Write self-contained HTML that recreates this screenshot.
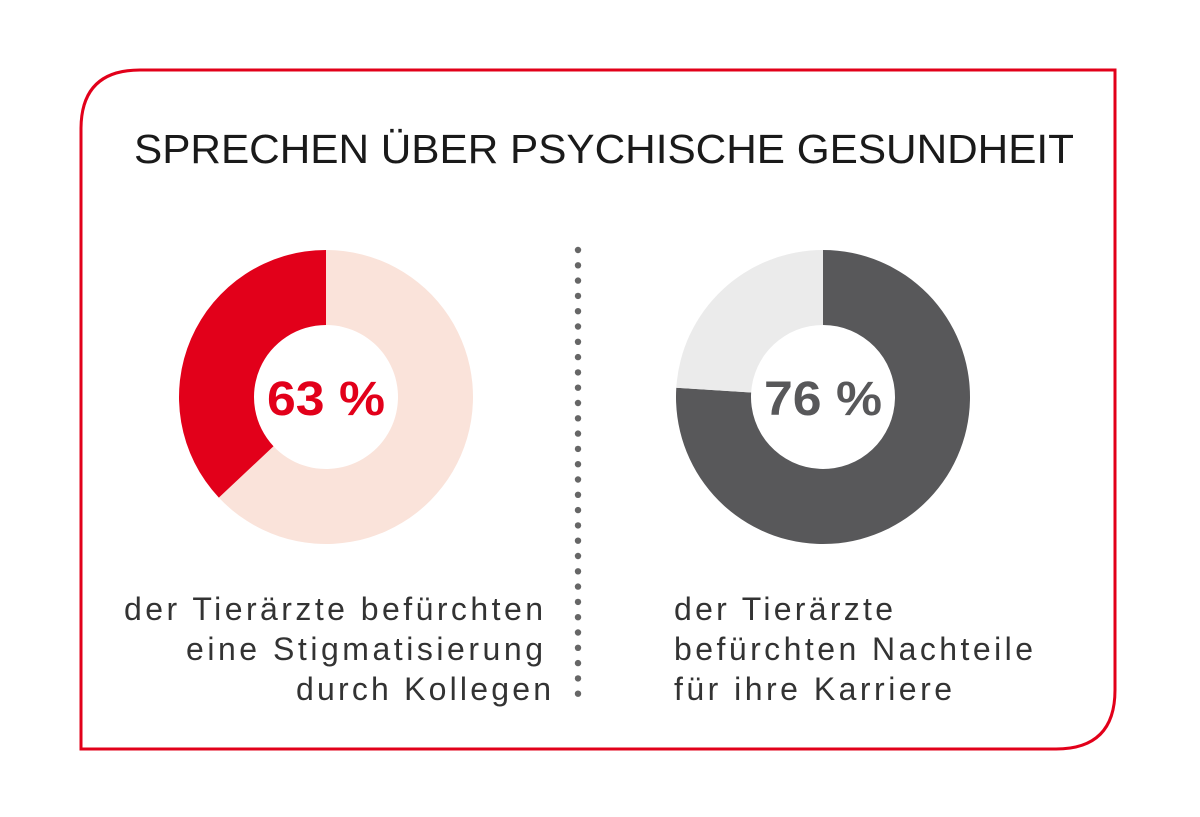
<!DOCTYPE html>
<html><head><meta charset="utf-8"><style>
html,body{margin:0;padding:0;background:#fff;}
svg{display:block;font-family:"Liberation Sans",sans-serif;}
</style></head><body>
<svg id="chart" width="1200" height="817" viewBox="0 0 1200 817">
<path d="M140 70 H1115 V690 Q1115 749 1056 749 H81 V129 Q81 70 140 70 Z" fill="none" stroke="#e2001a" stroke-width="3"/>
<text x="134" y="163" font-size="41" fill="#1a1a1a" textLength="940" lengthAdjust="spacingAndGlyphs">SPRECHEN ÜBER PSYCHISCHE GESUNDHEIT</text>
<g id="divider"></g>
<g id="donuts"></g>
<g font-size="32" fill="#333" lengthAdjust="spacing">
<text x="124" y="620" textLength="419">der Tierärzte befürchten</text>
<text x="186" y="660" textLength="357">eine Stigmatisierung</text>
<text x="296" y="700" textLength="255">durch Kollegen</text>
<text x="674" y="620" textLength="219">der Tierärzte</text>
<text x="674" y="660" textLength="359">befürchten Nachteile</text>
<text x="674" y="700" textLength="278">für ihre Karriere</text>
</g>
</svg>
<script>
const labels = ["63 %", "76 %"];
const values = [63, 76];
const ns = "http://www.w3.org/2000/svg";
const g = document.getElementById("donuts");
const div = document.getElementById("divider");
for (let y = 250; y <= 708; y += 15.3) {
  const c = document.createElementNS(ns, "circle");
  
  
  c.setAttribute("cx", 578); c.setAttribute("cy", y); c.setAttribute("r", 3.2); c.setAttribute("fill", "#666");
  div.appendChild(c);
}
const specs = [
  {cx: 326, cy: 397, main: "#fae3da", rest: "#e2001a", text: "#e2001a"},
  {cx: 823, cy: 397, main: "#58585a", rest: "#ebebeb", text: "#58585a"}
];
function pt(cx, cy, r, frac) { const a = frac * 2 * Math.PI; return [cx + r * Math.sin(a), cy - r * Math.cos(a)]; }
function arc(cx, cy, R, r, f0, f1) {
  const [x0, y0] = pt(cx, cy, R, f0), [x1, y1] = pt(cx, cy, R, f1);
  const [x2, y2] = pt(cx, cy, r, f1), [x3, y3] = pt(cx, cy, r, f0);
  const lg = (f1 - f0) > 0.5 ? 1 : 0;
  return `M${x0} ${y0} A${R} ${R} 0 ${lg} 1 ${x1} ${y1} L${x2} ${y2} A${r} ${r} 0 ${lg} 0 ${x3} ${y3} Z`;
}
values.forEach((v, i) => {
  const s = specs[i], f = v / 100;
  const p1 = document.createElementNS(ns, "path");
  
  
  p1.setAttribute("d", arc(s.cx, s.cy, 147, 72, 0, f)); p1.setAttribute("fill", s.main);
  g.appendChild(p1);
  const p2 = document.createElementNS(ns, "path");
  
  
  p2.setAttribute("d", arc(s.cx, s.cy, 147, 72, f, 1)); p2.setAttribute("fill", s.rest);
  g.appendChild(p2);
  const t = document.createElementNS(ns, "text");
  
  
  t.setAttribute("x", s.cx - 59); t.setAttribute("y", s.cy + 18);
  t.setAttribute("textLength", "118"); t.setAttribute("lengthAdjust", "spacingAndGlyphs");
  t.setAttribute("font-size", "48"); t.setAttribute("font-weight", "bold"); t.setAttribute("fill", s.text);
  t.textContent = labels[i];
  g.appendChild(t);
});
</script>
</body></html>
